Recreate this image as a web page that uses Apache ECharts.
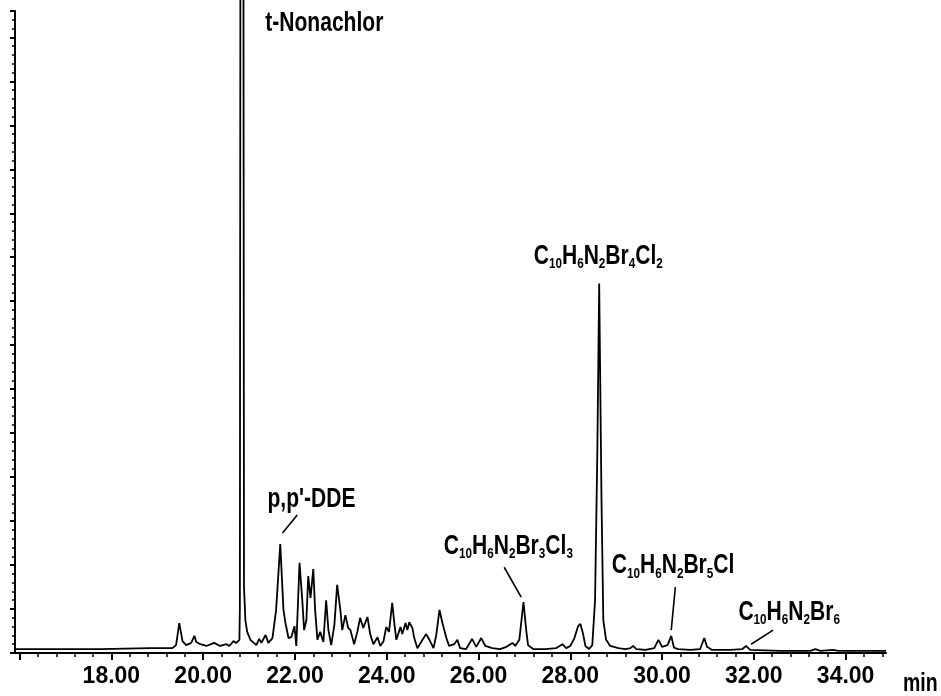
<!DOCTYPE html>
<html>
<head>
<meta charset="utf-8">
<script src="https://cdn.jsdelivr.net/npm/echarts@6/dist/echarts.min.js"></script>
<style>
html,body{margin:0;padding:0;background:#fff;}
#chart{width:941px;height:696px;}
</style>
</head>
<body>
<div id="chart"></div>
<script>
// retention time (min) of each trace point
const times = [15.91,17.76,18.85,19.33,19.41,19.48,19.55,19.63,19.74,19.81,19.85,19.94,20.07,20.24,20.37,20.51,20.57,20.66,20.72,20.79,
  20.80,20.815,20.875,20.89,20.92,20.96,21.03,21.16,21.22,21.27,21.36,21.42,21.51,21.59,21.68,21.75,21.79,21.86,21.92,21.99,
  22.03,22.10,22.16,22.20,22.25,22.29,22.34,22.40,22.44,22.49,22.55,22.62,22.68,22.73,22.79,22.86,22.92,22.99,23.03,23.10,
  23.16,23.21,23.29,23.36,23.42,23.49,23.58,23.64,23.71,23.80,23.86,23.93,23.99,24.05,24.12,24.17,24.21,24.30,24.34,24.41,
  24.45,24.49,24.56,24.60,24.67,24.78,24.86,24.93,25.02,25.08,25.15,25.21,25.25,25.30,25.36,25.47,25.54,25.60,25.73,25.86,
  25.95,26.06,26.15,26.30,26.47,26.61,26.74,26.80,26.89,26.98,27.04,27.08,27.19,27.46,27.69,27.83,27.91,28.00,28.09,28.17,
  28.22,28.28,28.33,28.41,28.48,28.54,28.59,28.63,28.68,28.72,28.78,28.87,29.05,29.20,29.31,29.37,29.44,29.64,29.83,29.92,
  30.00,30.12,30.20,30.26,30.35,30.61,30.83,30.92,30.98,31.09,31.49,31.75,31.83,31.92,32.58,33.23,33.34,33.45,33.73,33.84,34.88];
// detector signal (arbitrary abundance units)
const signal = [0.09,0.09,0.11,0.11,0.18,0.68,0.27,0.18,0.23,0.39,0.25,0.20,0.16,0.23,0.16,0.20,0.16,0.27,0.23,0.30,
  1.0,20,20,1.5,0.75,0.48,0.30,0.18,0.32,0.23,0.41,0.23,0.34,0.98,2.48,0.98,0.70,0.34,0.36,0.61,
  0.16,2.05,1.20,0.52,0.75,1.75,1.25,1.91,0.98,0.30,0.48,0.25,1.20,0.52,0.18,0.64,1.55,0.98,0.52,0.86,
  0.57,0.52,0.20,0.48,0.80,0.57,0.82,0.43,0.20,0.36,0.16,0.27,0.59,0.48,1.14,0.64,0.30,0.59,0.43,0.68,
  0.52,0.70,0.57,0.34,0.11,0.30,0.43,0.30,0.11,0.41,0.98,0.70,0.70,0.34,0.16,0.20,0.30,0.11,0.09,0.32,
  0.14,0.34,0.16,0.11,0.09,0.14,0.23,0.16,0.30,1.16,0.52,0.18,0.09,0.09,0.11,0.20,0.11,0.16,0.34,0.61,
  0.66,0.43,0.16,0.09,0.18,1.20,4.60,8.40,3.50,0.75,0.30,0.16,0.11,0.09,0.11,0.16,0.09,0.07,0.11,0.30,
  0.14,0.18,0.39,0.12,0.09,0.07,0.09,0.34,0.14,0.07,0.07,0.09,0.16,0.07,0.05,0.05,0.09,0.05,0.07,0.05,0.05];

// x axis ticks and labels
const majorTicks = [16,18,20,22,24,26,28,30,32,34];
const tickLabels = [18,20,22,24,26,28,30,32,34];
const xMin = 15.9, xMax = 34.88;

// peak annotations (anchor = text centre, in data coordinates)
const annotNames = ['t-Nonachlor', "p,p'-DDE", 'C10H6N2Br4Cl2', 'C10H6N2Br3Cl3', 'C10H6N2Br5Cl', 'C10H6N2Br6'];
const annotTimes = [22.64, 22.36, 28.61, 26.65, 30.24, 32.77];
const annotValues = [14.32, 3.48, 9.02, 2.43, 1.98, 0.93];
// leader lines [time, value] start and end
const leaderFrom = [[22.05,3.14],[26.56,1.95],[30.29,1.50],[32.42,0.52]];
const leaderTo   = [[21.73,2.73],[26.93,1.27],[30.20,0.52],[31.94,0.20]];

const FONT = "'Liberation Sans',Arial,sans-serif";
const NARROW = 0.78;

const minorTicks = [];
for (let i = 0; i <= 47; i++) {
  const v = Math.round((16 + i * 0.4) * 10) / 10;
  if (v < xMax && majorTicks.indexOf(v) < 0) minorTicks.push(v);
}

function toRich(s) {
  return s.replace(/([^0-9]+)|([0-9]+)/g, function (m, a, b) {
    return a ? '{m|' + a + '}' : '{s|' + b + '}';
  });
}

const chart = echarts.init(document.getElementById('chart'));
const option = {
  animation: false,
  backgroundColor: '#fff',
  grid: { left: 15, right: 55, top: 11, bottom: 43, containLabel: false },
  xAxis: [{
    type: 'value', min: xMin, max: xMax, position: 'bottom',
    axisLine: { show: true, lineStyle: { color: '#000', width: 2 } },
    axisTick: { show: true, customValues: majorTicks, length: 7, lineStyle: { color: '#000', width: 2 } },
    axisLabel: {
      show: true, customValues: tickLabels, margin: 12,
      formatter: v => v.toFixed(2),
      color: '#000', fontSize: 23, fontWeight: 'bold', fontFamily: FONT
    },
    splitLine: { show: false }
  }, {
    type: 'value', min: xMin, max: xMax, position: 'bottom',
    axisLine: { show: false },
    axisTick: { show: true, customValues: minorTicks, length: 4, lineStyle: { color: '#000', width: 1.5 } },
    axisLabel: { show: false },
    splitLine: { show: false }
  }],
  yAxis: {
    type: 'value', min: 0, max: 14.6, interval: 1,
    axisLine: { show: true, lineStyle: { color: '#000', width: 2 } },
    axisTick: { show: true, length: 5, lineStyle: { color: '#000', width: 2 } },
    minorTick: { show: true, splitNumber: 5, length: 3, lineStyle: { color: '#000', width: 1.5 } },
    axisLabel: { show: false },
    splitLine: { show: false },
    minorSplitLine: { show: false }
  },
  series: [{
    type: 'line',
    data: times.map((t, i) => [t, signal[i]]),
    showSymbol: false, symbol: 'none', clip: false,
    lineStyle: { color: '#000', width: 1.8 },
    markLine: {
      silent: true, symbol: ['none', 'none'], animation: false,
      label: { show: false },
      lineStyle: { color: '#000', width: 1.6, type: 'solid' },
      emphasis: { disabled: true },
      data: leaderFrom.map((p, i) => [{ coord: p }, { coord: leaderTo[i] }])
    }
  }]
};
chart.setOption(option);

// annotations placed from data coordinates through the chart's own scales
const texts = annotNames.map((n, i) => {
  const p = chart.convertToPixel({ seriesIndex: 0 }, [annotTimes[i], annotValues[i]]);
  return {
    type: 'text', x: p[0], y: p[1], scaleX: NARROW, silent: true,
    style: {
      text: toRich(n), align: 'center', verticalAlign: 'middle', fill: '#000',
      rich: {
        m: { fontSize: 27, fontWeight: 'bold', fontFamily: FONT, fill: '#000', color: '#000', lineHeight: 30 },
        s: { fontSize: 15, fontWeight: 'bold', fontFamily: FONT, fill: '#000', color: '#000', lineHeight: 13, verticalAlign: 'bottom' }
      }
    }
  };
});
// axis unit "min" just right of the x axis end
const endPx = chart.convertToPixel({ xAxisIndex: 0 }, xMax);
texts.push({
  type: 'text', x: endPx + 17, y: 684, scaleX: NARROW, silent: true,
  style: { text: 'min', fill: '#000', font: 'bold 25px ' + FONT, align: 'left', verticalAlign: 'middle' }
});
chart.setOption({ graphic: texts });
</script>
</body>
</html>
